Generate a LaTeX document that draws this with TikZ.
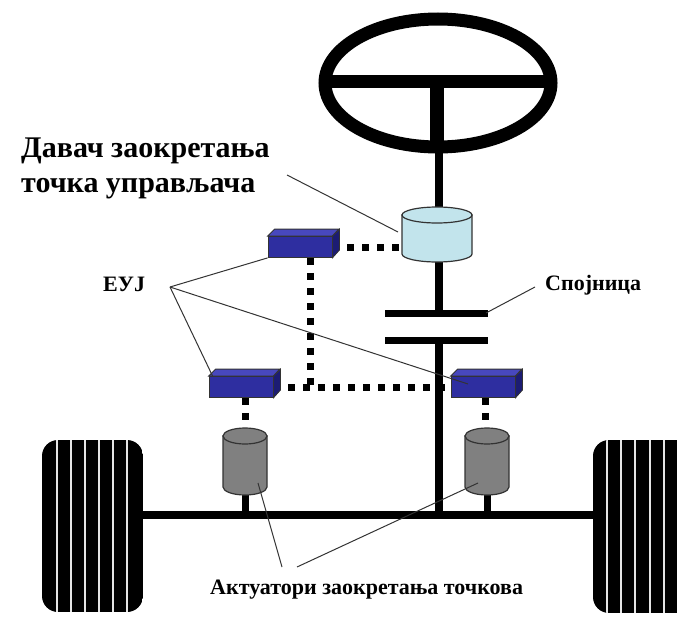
\documentclass[tikz,border=0pt]{standalone}
\usepackage{fontspec}
\setmainfont{Liberation Serif}

\definecolor{ecublue}{RGB}{46,46,160}
\definecolor{ecutop}{RGB}{72,72,190}
\definecolor{ecuside}{RGB}{28,28,115}
\definecolor{sensorblue}{RGB}{194,228,236}
\definecolor{drumgray}{RGB}{128,128,128}

\tikzset{
  ecubox/.style={draw=black!80, fill=ecublue, line width=0.8pt,
    minimum width=64pt, minimum height=21pt, inner sep=0pt},
  bus/.style={line width=7pt, dash pattern=on 7pt off 8pt},
  leader/.style={line width=1pt, draw=black!80},
  shaft/.style={line width=8pt},
  lbl/.style={font=\bfseries\fontsize{22}{26}\selectfont, inner sep=0pt},
  biglbl/.style={font=\bfseries\fontsize{30}{35}\selectfont, inner sep=0pt, align=left},
}

% 圆柱: 中心x, 顶y, 底y, 半径, 颜色
\newcommand{\drum}[5]{%
  \filldraw[fill=#5, draw=black!80, line width=1.2pt]
    (#1-#4,#2) -- (#1-#4,#3) arc[start angle=180, end angle=0, x radius=#4, y radius=8]
    -- (#1+#4,#2) -- cycle;
  \filldraw[fill=#5, draw=black!80, line width=1.2pt]
    (#1,#2) ellipse[x radius=#4, y radius=8];
}

\begin{document}
\begin{tikzpicture}[x=1pt, y=-1pt]
  \useasboundingbox (0,0) rectangle (677,623);

  % 车轮
  \begin{scope}
    \clip[rounded corners=16pt] (42,440) rectangle (143,612);
    \fill (42,440) rectangle (143,612);
    \foreach \s in {57,71,85,99,113,127}
      \draw[white!90!black, line width=1.3pt] (\s,440) -- (\s,612);
  \end{scope}
  \begin{scope}
    \clip[rounded corners=16pt] (593,440) rectangle (720,613);
    \fill (593,440) rectangle (720,613);
    \foreach \s in {607,621,635,650,664}
      \draw[white!90!black, line width=1.3pt] (\s,440) -- (\s,613);
  \end{scope}

  % 方向盘
  \draw[line width=13pt] (438,83) ellipse[x radius=113, y radius=64];
  \draw[line width=13pt] (330,82) -- (546,82);
  \draw[line width=14pt] (437,82) -- (437,142);

  % 转向柱和车轴
  \coordinate (sensor) at (437,215);
  \coordinate (actL) at (245,436);
  \coordinate (actR) at (487,436);
  \draw[shaft] (439,140) -- (439,313);
  \draw[shaft] (439,340) -- (439,515);
  \draw[shaft] (143,515) -- (595,515);
  \draw[line width=7pt] (245,490) -- (245,515);
  \draw[line width=7pt] (487,490) -- (487,515);

  % ECU
  \node[ecubox] (ecuT) at (300,247) {};
  \node[ecubox] (ecuL) at (241,387) {};
  \node[ecubox] (ecuR) at (483,387) {};
  \coordinate (busJ) at (310,386);

  % 信号线
  \draw[bus] (ecuT.east) -- (sensor |- ecuT.east);
  \draw[bus] (busJ |- ecuT.south) -- (busJ);
  \draw[bus] (ecuL.east) -- (ecuR.west);
  \draw[bus] (actL |- ecuL.south) -- (actL);
  \draw[bus] ([xshift=-2pt]actR |- ecuR.south) -- ([xshift=-2pt]actR);

  \foreach \e in {ecuT,ecuL,ecuR} {
    \node[ecubox] at (\e) {};
    \filldraw[fill=ecutop, draw=black!80, line width=0.8pt]
      (\e.north west) -- ++(7,-7) -- ++(64,0) -- (\e.north east) -- cycle;
    \filldraw[fill=ecuside, draw=black!80, line width=0.8pt]
      (\e.north east) -- ++(7,-7) -- ++(0,21) -- (\e.south east) -- cycle;
  }

  % 传感器和执行器
  \drum{437}{215}{254}{35}{sensorblue}
  \drum{245}{436}{487}{22}{drumgray}
  \drum{487}{436}{487}{22}{drumgray}

  % 离合器
  \draw[line width=7pt] (385,313) -- (488,313);
  \draw[line width=7pt] (385,340) -- (488,340);

  % 标注
  \node[biglbl, anchor=west] (davac) at (21,168) {Давач заокретања\\точка управљача};
  \node[lbl, anchor=west] (euj) at (103,284) {ЕУЈ};
  \node[lbl, anchor=west] (spojnica) at (545,285) {Спојница};
  \node[lbl, anchor=west] (aktuatori) at (210,590) {Актуатори заокретања точкова};

  \coordinate (davacTip) at (287,175);
  \coordinate (eujTip) at (170,287);
  \coordinate (spojTip) at (535,287);
  \coordinate (aktTipA) at (282,567);
  \coordinate (aktTipB) at (297,567);

  \draw[leader] (davacTip) -- (398,232);
  \draw[leader] (eujTip) -- (ecuT.south west);
  \draw[leader] (eujTip) -- ([xshift=4pt]ecuL.north west);
  \draw[leader] (eujTip) -- ([xshift=-15pt,yshift=3pt]ecuR.center);
  \draw[leader] (spojTip) -- (486,313);
  \draw[leader] (aktTipA) -- (258,483);
  \draw[leader] (aktTipB) -- (478,483);
\end{tikzpicture}
\end{document}
